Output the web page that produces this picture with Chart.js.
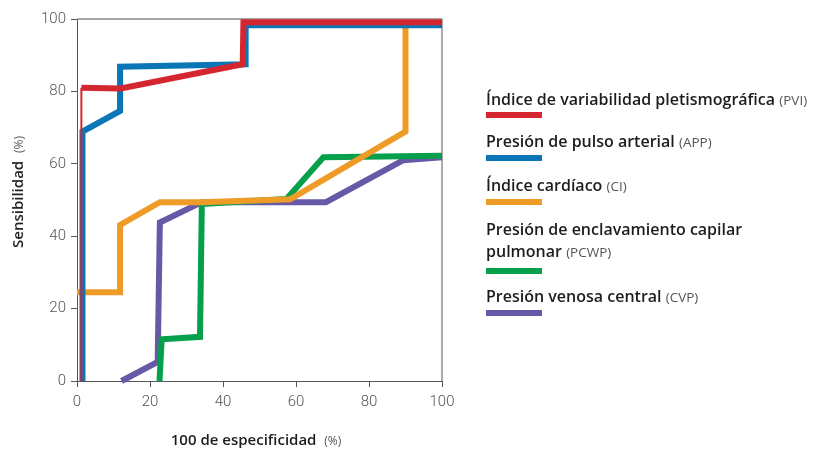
<!DOCTYPE html>
<html>
<head>
<meta charset="utf-8">
<script src="https://cdn.jsdelivr.net/npm/chart.js@4/dist/chart.umd.min.js"></script>
<style>
  body { margin: 0; background: #fff; }
  #wrap { position: relative; width: 824px; height: 450px; font-family: "Open Sans", sans-serif; }
  .lg { position: absolute; left: 486px; color: #1d1d1b; font-size: 16px; font-weight: 600; line-height: 22px; white-space: nowrap; }
  .ab { font-size: 13.5px; font-weight: 400; color: #555; }
  .bar { position: absolute; left: 486px; width: 56px; height: 6px; }
  .ttl { position: absolute; font-family: "Open Sans", sans-serif; font-size: 15px; font-weight: 600; color: #1d1d1b; white-space: nowrap; }
  .ttl span { font-size: 12px; font-weight: 400; color: #555; }
</style>
</head>
<body>
<div id="wrap">
  <canvas id="roc" width="824" height="450"></canvas>
  <div class="ttl" id="ytitle" style="left:17px;top:192px;transform:translate(-50%,-50%) rotate(-90deg);">Sensibilidad&nbsp; <span>(%)</span></div>
  <div class="ttl" id="xtitle" style="left:256px;top:439px;transform:translate(-50%,-50%);">100 de especificidad&nbsp; <span>(%)</span></div>
</div>
<script>
// ROC curves, x = 100 - especificidad, y = sensibilidad
var ticks = [0, 20, 40, 60, 80, 100];

var names = ['Índice de variabilidad pletismográfica', 'Presión de pulso arterial', 'Índice cardíaco ',
             'Presión de enclavamiento capilar<br>pulmonar', 'Presión venosa central'];
var abbrevs = ['(PVI)', '(APP)', '(CI)', '(PCWP)', '(CVP)'];
var colors = ['#d5262f', '#0b76b6', '#ee9b27', '#06a04c', '#6759a6'];

var pviX  = [1.2, 1.2, 12, 45.4, 45.6, 100];
var pviY  = [0, 81, 80.8, 87.5, 99.1, 99.1];
var appX  = [1.5, 1.5, 11.8, 11.8, 46.2, 46.2, 100];
var appY  = [0, 68.9, 74.6, 86.8, 87.5, 98.3, 98.3];
var ciX   = [0, 11.8, 11.8, 22.7, 34, 58.4, 90, 90];
var ciY   = [24.5, 24.5, 43.1, 49.4, 49.4, 50.2, 68.9, 97.8];
var pcwpX = [22.6, 23.2, 33.7, 34.2, 57.4, 67.5, 100];
var pcwpY = [0, 11.5, 12.2, 48.9, 50.3, 61.8, 62.2];
var cvpX  = [12.2, 22.1, 22.7, 34.2, 68.2, 89.4, 100];
var cvpY  = [0, 5.3, 43.8, 49.4, 49.4, 61, 61.8];

var xs = [pviX, appX, ciX, pcwpX, cvpX];
var ys = [pviY, appY, ciY, pcwpY, cvpY];

function pts(x, y) {
    var out = [];
    for (var i = 0; i < x.length; i++) out.push({x: x[i], y: y[i]});
    return out;
}

var datasets = [];
for (var k = 0; k < 5; k++) {
    datasets.push({
        label: names[k],
        data: pts(xs[k], ys[k]),
        borderColor: colors[k],
        borderWidth: 6,
        borderJoinStyle: 'miter',
        borderCapStyle: 'butt',
        pointRadius: 0,
        tension: 0,
        fill: false,
        clip: false
    });
}
// thin first segment of the PVI curve
datasets[0].segment = {
    borderWidth: function (c) { return c.p0DataIndex === 0 ? 2 : 6; }
};

// legend (html)
var wrap = document.getElementById('wrap');
var textTop = [88, 130, 174, 218, 285];
var barTop = [112, 155, 199, 268, 310];
for (var j = 0; j < 5; j++) {
    var d = document.createElement('div');
    d.className = 'lg';
    d.style.top = textTop[j] + 'px';
    d.innerHTML = names[j] + ' <span class="ab">' + abbrevs[j] + '</span>';
    wrap.appendChild(d);
    var b = document.createElement('div');
    b.className = 'bar';
    b.style.top = barTop[j] + 'px';
    b.style.background = colors[j];
    wrap.appendChild(b);
}

var frame = {
    id: 'frame',
    beforeDatasetsDraw: function (chart) {
        var a = chart.chartArea, c = chart.ctx;
        c.save();
        c.strokeStyle = '#888';
        c.lineWidth = 1.5;
        c.beginPath(); c.moveTo(a.left, a.top); c.lineTo(a.right, a.top); c.stroke();
        c.strokeStyle = '#aaa';
        c.lineWidth = 2;
        c.beginPath(); c.moveTo(a.right, a.top); c.lineTo(a.right, a.bottom); c.stroke();
        c.restore();
    }
};

var ctx = document.getElementById('roc').getContext('2d');
var rocChart = new Chart(ctx, {
    type: 'line',
    data: { datasets: datasets },
    options: {
        responsive: false,
        animation: false,
        layout: { padding: { left: 0, top: 19, right: 382, bottom: 0 } },
        plugins: { legend: { display: false }, tooltip: { enabled: false } },
        scales: {
            x: {
                type: 'linear', min: 0, max: 100,
                afterBuildTicks: function (s) { s.ticks = ticks.map(function (v) { return {value: v}; }); },
                afterFit: function (s) { s.height = 69; },
                grid: { drawOnChartArea: false, drawTicks: true, tickLength: 6, color: '#555' },
                border: { color: '#555', width: 1 },
                ticks: { color: '#555', font: { family: 'Roboto', size: 15, weight: '300' }, padding: 6, maxRotation: 0 }
            },
            y: {
                type: 'linear', min: 0, max: 100,
                afterBuildTicks: function (s) { s.ticks = ticks.map(function (v) { return {value: v}; }); },
                afterFit: function (s) { s.width = 77; },
                grid: { drawOnChartArea: false, drawTicks: true, tickLength: 6, color: '#555' },
                border: { color: '#555', width: 1 },
                ticks: { color: '#555', font: { family: 'Roboto', size: 15, weight: '300' }, padding: 5 }
            }
        }
    },
    plugins: [frame]
});
</script>
</body>
</html>
